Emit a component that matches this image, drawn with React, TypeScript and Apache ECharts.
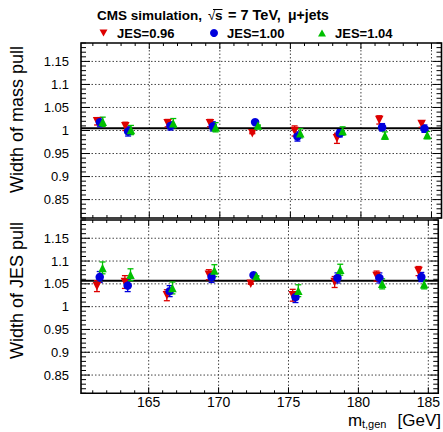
import React, { useEffect, useRef } from "react";
import * as echarts from "echarts";

// ---- data ----
const masses = [161.5, 163.5, 166.5, 169.5, 172.5, 175.5, 178.5, 181.5, 184.5];
const jesLabels = ["JES=0.96", "JES=1.00", "JES=1.04"];
const seriesColors = ["#dd0000", "#0000dd", "#00c000"];
const xOffsets = [-0.2, 0, 0.2];

const massWidth096 = [1.020, 1.009, 1.016, 1.016, 0.994, 0.999, 0.983, 1.023, 1.014];
const massWidth100 = [1.018, 0.998, 1.010, 1.009, 1.018, 0.987, 0.994, 1.007, 1.004];
const massWidth104 = [1.019, 1.001, 1.016, 1.007, 1.011, 0.994, 0.999, 0.989, 0.990];
const massErr096 = [0.008, 0.009, 0.008, 0.008, 0.001, 0.011, 0.011, 0.009, 0.007];
const massErr100 = [0.010, 0.010, 0.009, 0.010, 0.001, 0.010, 0.008, 0.008, 0.008];
const massErr104 = [0.010, 0.010, 0.010, 0.010, 0.001, 0.010, 0.009, 0.008, 0.008];

const jesWidth096 = [1.045, 1.054, 1.025, 1.070, 1.050, 1.025, 1.054, 1.067, 1.078];
const jesWidth100 = [1.065, 1.046, 1.034, 1.065, 1.069, 1.021, 1.063, 1.063, 1.065];
const jesWidth104 = [1.085, 1.070, 1.041, 1.079, 1.067, 1.035, 1.081, 1.050, 1.049];
const jesErr096 = [0.012, 0.014, 0.012, 0.011, 0.001, 0.013, 0.012, 0.011, 0.010];
const jesErr100 = [0.012, 0.013, 0.012, 0.012, 0.001, 0.012, 0.011, 0.011, 0.010];
const jesErr104 = [0.013, 0.013, 0.013, 0.013, 0.001, 0.013, 0.012, 0.011, 0.010];

const massFit = 1.005;
const jesFit = 1.057;

const xMajor = [165, 170, 175, 180, 185];
const xTickLabels = ["165", "170", "175", "180", "185"];
const yMajor = [0.85, 0.9, 0.95, 1, 1.05, 1.1, 1.15];
const yTickLabels = ["0.85", "0.9", "0.95", "1", "1.05", "1.1", "1.15"];

const X_MIN = 160.16;
const X_MAX = 185.71;
const Y_MIN = 0.81;
const Y_MAX = 1.19;

const FONT = '"Liberation Sans", Arial, Helvetica, sans-serif';

const panels = [
  { values: [massWidth096, massWidth100, massWidth104], errors: [massErr096, massErr100, massErr104], fit: massFit },
  { values: [jesWidth096, jesWidth100, jesWidth104], errors: [jesErr096, jesErr100, jesErr104], fit: jesFit },
];

function labelFor(list: number[], labels: string[], v: number) {
  const i = list.findIndex((t) => Math.abs(t - v) < 1e-6);
  return i >= 0 ? labels[i] : "";
}

function decorSeries(p: number, fit: number) {
  return {
    type: "custom",
    xAxisIndex: p,
    yAxisIndex: p,
    silent: true,
    z: 1,
    data: [[X_MIN, Y_MIN]],
    renderItem: (_params: any, api: any) => {
      const children: any[] = [];
      const tl = api.coord([X_MIN, Y_MAX]);
      const br = api.coord([X_MAX, Y_MIN]);
      const L = tl[0], T = tl[1], R = br[0], B = br[1];
      const grid = { stroke: "#444", lineWidth: 1, lineDash: [1.5, 2] };
      yMajor.forEach((v) => {
        const y = api.coord([X_MIN, v])[1];
        children.push({ type: "line", shape: { x1: L, y1: y, x2: R, y2: y }, style: grid });
      });
      xMajor.forEach((v) => {
        const x = api.coord([v, Y_MIN])[0];
        children.push({ type: "line", shape: { x1: x, y1: T, x2: x, y2: B }, style: grid });
      });
      const fy = api.coord([X_MIN, fit])[1];
      children.push({ type: "line", shape: { x1: L, y1: fy, x2: R, y2: fy }, style: { stroke: "#000", lineWidth: 2 } });
      const tk = { stroke: "#000", lineWidth: 1 };
      for (let k = 81; k <= 119; k++) {
        const y = api.coord([X_MIN, k / 100])[1];
        const len = k % 5 === 0 ? 9 : 5;
        children.push({ type: "line", shape: { x1: L, y1: y, x2: L + len, y2: y }, style: tk });
        children.push({ type: "line", shape: { x1: R - len, y1: y, x2: R, y2: y }, style: tk });
      }
      for (let k = 161; k <= 185; k++) {
        const x = api.coord([k, Y_MIN])[0];
        const len = k % 5 === 0 ? 6 : 3;
        children.push({ type: "line", shape: { x1: x, y1: B, x2: x, y2: B - len }, style: tk });
        children.push({ type: "line", shape: { x1: x, y1: T, x2: x, y2: T + len }, style: tk });
      }
      children.push({
        type: "rect",
        shape: { x: L, y: T, width: R - L, height: B - T },
        style: { fill: "none", stroke: "#000", lineWidth: 1.6 },
      });
      return { type: "group", children };
    },
  };
}

function errorSeries(p: number, s: number) {
  const vals = panels[p].values[s];
  const errs = panels[p].errors[s];
  const color = seriesColors[s];
  return {
    type: "custom",
    xAxisIndex: p,
    yAxisIndex: p,
    silent: true,
    z: 2,
    data: masses.map((m, i) => [m + xOffsets[s], vals[i], errs[i]]),
    renderItem: (_params: any, api: any) => {
      const x = api.value(0), y = api.value(1), e = api.value(2);
      const hi = api.coord([x, y + e]);
      const lo = api.coord([x, y - e]);
      const st = { stroke: color, lineWidth: 1.3 };
      return {
        type: "group",
        children: [
          { type: "line", shape: { x1: hi[0], y1: hi[1], x2: lo[0], y2: lo[1] }, style: st },
          { type: "line", shape: { x1: hi[0] - 3, y1: hi[1], x2: hi[0] + 3, y2: hi[1] }, style: st },
          { type: "line", shape: { x1: lo[0] - 3, y1: lo[1], x2: lo[0] + 3, y2: lo[1] }, style: st },
        ],
      };
    },
  };
}

function markerSeries(p: number, s: number) {
  const vals = panels[p].values[s];
  return {
    type: "scatter",
    name: jesLabels[s],
    xAxisIndex: p,
    yAxisIndex: p,
    z: 3,
    symbol: s === 1 ? "circle" : "triangle",
    symbolRotate: s === 0 ? 180 : 0,
    symbolSize: 8.5,
    itemStyle: { color: seriesColors[s], opacity: 1 },
    data: masses.map((m, i) => [m + xOffsets[s], vals[i]]),
  };
}

function buildOption() {
  const series: any[] = [];
  [0, 1].forEach((p) => {
    series.push(decorSeries(p, panels[p].fit));
    [0, 1, 2].forEach((s) => series.push(errorSeries(p, s)));
    [0, 1, 2].forEach((s) => series.push(markerSeries(p, s)));
  });

  const legendX = [103.5, 214, 322];
  const legendTextX = [117, 227, 335];
  const legendY = 33;
  const legendGraphics: any[] = [];
  [0, 1, 2].forEach((s) => {
    const cx = legendX[s];
    if (s === 1) {
      legendGraphics.push({ type: "circle", shape: { cx, cy: legendY, r: 4 }, style: { fill: seriesColors[s] } });
    } else if (s === 0) {
      legendGraphics.push({
        type: "polygon",
        shape: { points: [[cx - 4, legendY - 3.5], [cx + 4, legendY - 3.5], [cx, legendY + 3.5]] },
        style: { fill: seriesColors[s] },
      });
    } else {
      legendGraphics.push({
        type: "polygon",
        shape: { points: [[cx - 4, legendY + 3.5], [cx + 4, legendY + 3.5], [cx, legendY - 3.5]] },
        style: { fill: seriesColors[s] },
      });
    }
    legendGraphics.push({
      type: "text",
      x: legendTextX[s],
      y: legendY,
      style: { text: jesLabels[s], font: `bold 13px ${FONT}`, fill: "#000", align: "left", verticalAlign: "middle" },
    });
  });

  const titleFont = `bold 13.5px ${FONT}`;
  const graphic: any[] = [
    { type: "text", x: 97, y: 15, style: { text: "CMS simulation,", font: titleFont, fill: "#000", verticalAlign: "middle" } },
    { type: "text", x: 208, y: 15, style: { text: "√", font: `13.5px ${FONT}`, fill: "#000", verticalAlign: "middle" } },
    { type: "text", x: 215, y: 15, style: { text: "s", font: titleFont, fill: "#000", verticalAlign: "middle" } },
    { type: "line", shape: { x1: 213, y1: 9.5, x2: 222.5, y2: 9.5 }, style: { stroke: "#000", lineWidth: 1 } },
    { type: "text", x: 228, y: 15, style: { text: "= 7 TeV,", font: `bold 14.5px ${FONT}`, fill: "#000", verticalAlign: "middle" } },
    { type: "text", x: 288, y: 15, style: { text: "μ+jets", font: `bold 14px ${FONT}`, fill: "#000", verticalAlign: "middle" } },
    ...legendGraphics,
    {
      type: "text", x: 17, y: 46, rotation: Math.PI / 2,
      style: { text: "Width of mass pull", font: `18px ${FONT}`, fill: "#000", align: "right", verticalAlign: "middle" },
    },
    {
      type: "text", x: 17, y: 222, rotation: Math.PI / 2,
      style: { text: "Width of JES pull", font: `18px ${FONT}`, fill: "#000", align: "right", verticalAlign: "middle" },
    },
    { type: "text", x: 348, y: 420.5, style: { text: "m", font: `17px ${FONT}`, fill: "#000", verticalAlign: "middle" } },
    { type: "text", x: 362, y: 424, style: { text: "t,gen", font: `11px ${FONT}`, fill: "#000", verticalAlign: "middle" } },
    { type: "text", x: 441, y: 420.5, style: { text: "[GeV]", font: `17px ${FONT}`, fill: "#000", align: "right", verticalAlign: "middle" } },
  ];

  return {
    animation: false,
    backgroundColor: "#fff",
    grid: [
      { left: 81, top: 43, width: 360.5, height: 175 },
      { left: 81, top: 220, width: 360.5, height: 173.3 },
    ],
    xAxis: [0, 1].map((i) => ({
      type: "value",
      gridIndex: i,
      min: X_MIN,
      max: X_MAX,
      axisLine: { show: false },
      axisTick: { show: false },
      splitLine: { show: false },
      axisLabel:
        i === 1
          ? {
              show: true,
              customValues: xMajor,
              formatter: (v: number) => labelFor(xMajor, xTickLabels, v),
              fontSize: 14,
              fontFamily: "Liberation Sans",
              color: "#000",
              margin: 2,
            }
          : { show: false },
    })),
    yAxis: [0, 1].map((i) => ({
      type: "value",
      gridIndex: i,
      min: Y_MIN,
      max: Y_MAX,
      axisLine: { show: false },
      axisTick: { show: false },
      splitLine: { show: false },
      axisLabel: {
        show: true,
        customValues: yMajor,
        formatter: (v: number) => labelFor(yMajor, yTickLabels, v),
        fontSize: 13,
        fontFamily: "Liberation Sans",
        color: "#000",
        margin: 12,
      },
    })),
    graphic,
    series,
  };
}

export default function App() {
  const ref = useRef<HTMLDivElement>(null);
  useEffect(() => {
    const chart = echarts.init(ref.current!, null, { renderer: "svg" });
    chart.setOption(buildOption() as any);
    return () => chart.dispose();
  }, []);
  return <div ref={ref} style={{ position: "fixed", left: 0, top: 0, width: 443, height: 432 }} />;
}
